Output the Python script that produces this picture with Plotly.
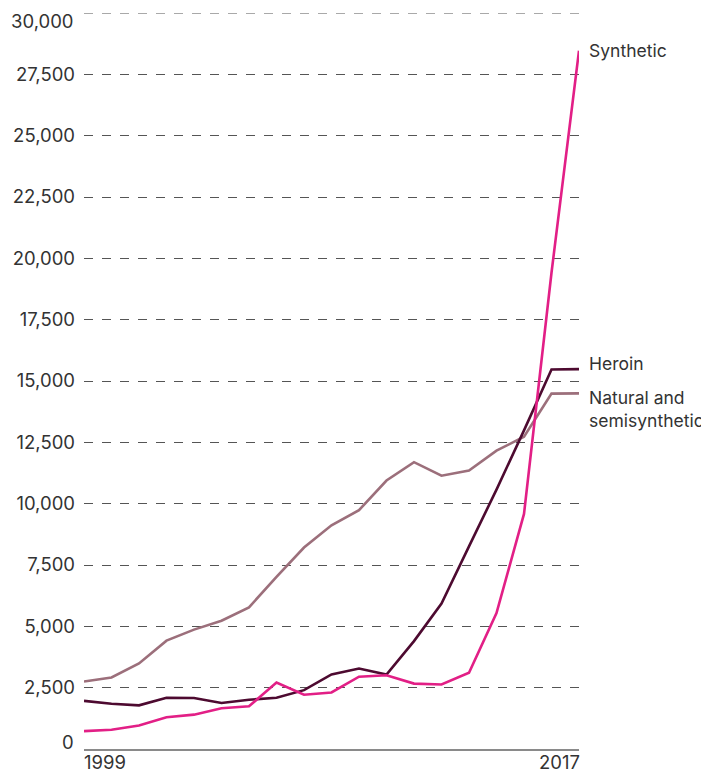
import plotly.graph_objects as go

years = list(range(1999, 2018))
natural = [2749, 2917, 3484, 4416, 4867, 5231, 5774, 7017, 8212, 9119, 9735,
           10943, 11693, 11140, 11346, 12159, 12727, 14487, 14495]
heroin = [1960, 1842, 1779, 2089, 2080, 1878, 2009, 2088, 2399, 3041, 3278,
          3036, 4397, 5925, 8257, 10574, 12989, 15469, 15482]
synthetic = [730, 782, 957, 1295, 1400, 1664, 1742, 2707, 2213, 2306, 2946,
             3007, 2666, 2628, 3105, 5544, 9580, 19413, 28466]

series = [
    ("Natural and<br>semisynthetic", natural, "#9c6f7b", 16),
    ("Heroin", heroin, "#4d0a30", -6),
    ("Synthetic", synthetic, "#e21f86", 0),
]

FONT = "Inter"
TXT = "#333333"

fig = go.Figure()
for name, vals, col, _ in series:
    fig.add_trace(go.Scatter(x=years, y=vals, mode="lines", name=name,
                             line=dict(color=col, width=2.6), hoverinfo="skip"))

ann = []
for name, vals, col, dy in series:
    ann.append(dict(x=years[-1], y=vals[-1], xref="x", yref="y", text=name,
                    showarrow=False, xanchor="left", yanchor="middle", align="left",
                    xshift=8, yshift=-dy, font=dict(family=FONT, size=17.5, color=TXT)))

ytick_vals = list(range(2500, 30000, 2500))
ann.append(dict(x=0, y=0, xref="paper", yref="y", text="0", showarrow=False,
                xanchor="right", yanchor="middle", xshift=-8, yshift=7,
                font=dict(family=FONT, size=18.5, color=TXT)))
ann.append(dict(x=0, y=30000, xref="paper", yref="y", text="30,000", showarrow=False,
                xanchor="right", yanchor="middle", xshift=-8, yshift=-8,
                font=dict(family=FONT, size=18.5, color=TXT)))
ann.append(dict(x=years[0], y=0, xref="x", yref="y", text="1999", showarrow=False,
                xanchor="left", yanchor="top", yshift=0, xshift=-2,
                font=dict(family=FONT, size=18.5, color=TXT)))
ann.append(dict(x=years[-1], y=0, xref="x", yref="y", text="2017", showarrow=False,
                xanchor="right", yanchor="top", yshift=0, xshift=3,
                font=dict(family=FONT, size=18.5, color=TXT)))

shapes = [dict(type="line", xref="paper", yref="y", x0=0, x1=1, y0=30000, y1=30000,
               line=dict(color="#555555", width=1, dash="dash"), layer="below")]

fig.update_layout(
    width=701, height=764,
    margin=dict(l=72, r=130, t=5, b=23),
    paper_bgcolor="white", plot_bgcolor="white",
    showlegend=False,
    annotations=ann, shapes=shapes,
    xaxis=dict(range=[1999, 2017], showgrid=False, zeroline=False,
               showticklabels=False, ticks="", showline=True,
               linecolor="#8a8a8a", linewidth=2, fixedrange=True),
    yaxis=dict(range=[0, 30000], tickvals=ytick_vals,
               ticktext=[f"{v:,}" for v in ytick_vals],
               showgrid=True, gridcolor="#555555", griddash="dash", gridwidth=1,
               zeroline=False, showline=False, ticks="",
               tickfont=dict(family=FONT, size=18.5, color=TXT), ticklabelstandoff=8,
               fixedrange=True),
)

fig.write_html("out.html", config={"displayModeBar": False})
